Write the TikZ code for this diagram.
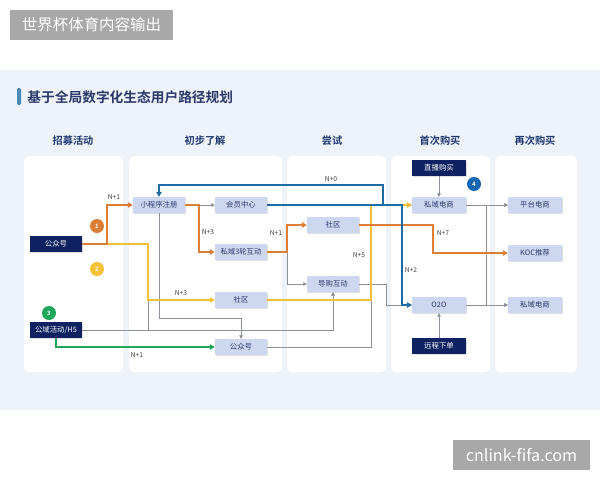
\documentclass[tikz,border=0pt]{standalone}
\usepackage{fontspec}
\setmainfont{Noto Sans CJK SC}[BoldFont={Noto Sans CJK SC Bold}]
\usetikzlibrary{arrows.meta, positioning, shadows}
\definecolor{mynavy}{HTML}{0E2160}
\definecolor{mylight}{HTML}{CDD8F0}
\definecolor{mytext}{HTML}{2B3A6B}
\definecolor{myorange}{HTML}{DD7E36}
\definecolor{myyellow}{HTML}{F5C136}
\definecolor{myblue}{HTML}{1C6BA6}
\definecolor{mygreen}{HTML}{1EA65A}
\definecolor{mygray}{HTML}{8C9099}
\definecolor{mybg}{HTML}{EEF2F9}
\definecolor{myhead}{HTML}{1F3A70}
\definecolor{mybadge}{HTML}{1565B0}
\definecolor{mymark}{HTML}{A8A8A8}
\tikzset{
	darknode/.style={
			rectangle,
			draw=none,
			fill=mynavy,
			text=white,
			minimum width=26mm,
			minimum height=8mm,
			inner sep=0pt,
			font=\fontsize{10.5}{11}\selectfont,
			drop shadow={shadow xshift=0.8pt, shadow yshift=-0.8pt, opacity=0.25}
		},
	lightnode/.style={
			darknode,
			fill=mylight,
			text=mytext
		},
	badgenode/.style={
			circle,
			draw=none,
			minimum size=7mm,
			inner sep=0pt,
			text=white,
			font=\fontsize{8.5}{8.5}\selectfont\bfseries
		},
	headnode/.style={
			text=myhead,
			font=\fontsize{14.5}{15}\selectfont\bfseries
		},
	stepnode/.style={
			text=black!75,
			inner sep=1pt,
			font=\fontsize{9.5}{10}\selectfont
		},
	colbox/.style={
			fill=white,
			draw=none,
			rounded corners=3mm
		},
	grayline/.style={
			draw=mygray,
			line width=1.1pt,
			-{Triangle[length=5pt,width=5pt]}
		},
	colorline/.style={
			line width=2.8pt,
			-{Triangle[length=7pt,width=7.5pt]}
		}
}

\begin{document}
\begin{tikzpicture}[x=0.5mm, y=-0.5mm]
\useasboundingbox (0,0) rectangle (600,480);
\fill[white] (0,0) rectangle (600,480);
\fill[mybg] (0,70) rectangle (600,410);

    \node[fill=mymark, text=white, minimum width=81.5mm, minimum height=15mm, inner sep=0pt,
          font=\fontsize{22}{22}\selectfont] (wm1) at (91.5,25) {世界杯体育内容输出};
    \node[fill=mymark, text=white, minimum width=68.5mm, minimum height=15mm, inner sep=0pt,
          font=\fontsize{23}{23}\selectfont] (wm2) at (521.5,455) {cnlink-fifa.com};

    \fill[myblue!80!white, rounded corners=0.7mm] (17,88) rectangle (21,105);
    \node[anchor=west, text=mytext, font=\fontsize{19.5}{20}\selectfont\bfseries] (title) at (25,97)
        {基于全局数字化生态用户路径规划};

    \fill[colbox] (24,156) rectangle (123,372);
    \fill[colbox] (129,156) rectangle (282,372);
    \fill[colbox] (287,156) rectangle (386,372);
    \fill[colbox] (391,156) rectangle (490,372);
    \fill[colbox] (495,156) rectangle (577,372);

    \node[headnode] (h1) at (73,141)  { 招募活动 };
    \node[headnode] (h2) at (205,141) { 初步了解 };
    \node[headnode] (h3) at (332,141) { 尝试 };
    \node[headnode] (h4) at (440,141) { 首次购买 };
    \node[headnode] (h5) at (535,141) { 再次购买 };

    \node[darknode] (n1) at (56,244)   { 公众号 };
    \node[darknode] (n2) at (56,330)   { 公域活动/H5 };
    \node[lightnode] (n3) at (159,205) { 小程序注册 };
    \node[lightnode] (n4) at (241,205) { 会员中心 };
    \node[lightnode] (n5) at (241,252) { 私域3轮互动 };
    \node[lightnode] (n6) at (241,300) { 社区 };
    \node[lightnode] (n7) at (241,347) { 公众号 };
    \node[lightnode] (n8) at (333,225) { 社区 };
    \node[lightnode] (n9) at (333,284) { 导购互动 };
    \node[darknode, minimum width=27mm] (n10) at (439,168)  { 直播购买 };
    \node[lightnode, minimum width=27mm] (n11) at (439,205) { 私域电商 };
    \node[lightnode, minimum width=27mm] (n12) at (439,305) { O2O };
    \node[darknode, minimum width=27mm] (n13) at (439,346)  { 远程下单 };
    \node[lightnode, minimum width=27mm] (n14) at (535,205) { 平台电商 };
    \node[lightnode, minimum width=27mm] (n15) at (535,253) { KOC推荐 };
    \node[lightnode, minimum width=27mm] (n16) at (535,305) { 私域电商 };

    \node[badgenode, fill=myorange] (b1) at (97,226) {1};
    \node[badgenode, fill=myyellow] (b2) at (97,269) {2};
    \node[badgenode, fill=mygreen] (b3) at (49,313)  {3};
    \node[badgenode, fill=mybadge] (b4) at (474,184) {4};

    \draw[grayline] (n3) -- (n4);
    \draw[grayline] (n3.south) -- (159,318) -| (n7.north);
    \draw[grayline] (n2.east) -| (n9.south);
    \draw[grayline] (n1.east) -- (148,244) -- (148,330) -| (n9.south);
    \draw[grayline] (n7.east) -- (371,347) |- (n11.west);
    \draw[grayline] (n5.east) -- (287,252) |- (n9.west);
    \draw[grayline] (n9.east) -- (386,284) |- (n12.west);
    \draw[grayline] (n10) -- (n11);
    \draw[grayline] (n13) -- (n12);
    \draw[grayline] (n11) -- (n14);
    \draw[grayline] (n12) -- (n16);
    \draw[grayline] (n11.east) -- (486,205) |- (n16.west);
    \draw[grayline] (n12.east) -- (486,305) |- (n14.west);

    \draw[colorline, mygreen] (n2.south) |- (n7.west);
    \draw[colorline, myyellow] (n1.east) -- (148,244) |- (n6.west);
    \draw[colorline, myyellow] (n6.east) -- (371,300) |- (n11.west);
    \draw[colorline, myorange] (n1.east) -- (107,244) |- (n3.west);
    \draw[colorline, myorange] (n3.east) -- (199,205) |- (n5.west);
    \draw[colorline, myorange] (n5.east) -- (287,252) |- (n8.west);
    \draw[colorline, myorange] (n8.east) -- (433,225) |- (n15.west);
    \draw[colorline, myblue] (n4.east) -- (402,205) |- (n12.west);
    \draw[colorline, myblue] (n4.east) -- (383,205) -- (383,185) -| (n3.north);

    \node[stepnode] (s1) at (114,197) {N+1};
    \node[stepnode] (s2) at (208,232) {N+3};
    \node[stepnode] (s3) at (276,233) {N+1};
    \node[stepnode] (s4) at (443,233) {N+7};
    \node[stepnode] (s5) at (181,293) {N+3};
    \node[stepnode] (s6) at (359,255) {N+5};
    \node[stepnode] (s7) at (331,179) {N+0};
    \node[stepnode] (s8) at (411,270) {N+2};
    \node[stepnode] (s9) at (137,355) {N+1};

\end{tikzpicture}
\end{document}
